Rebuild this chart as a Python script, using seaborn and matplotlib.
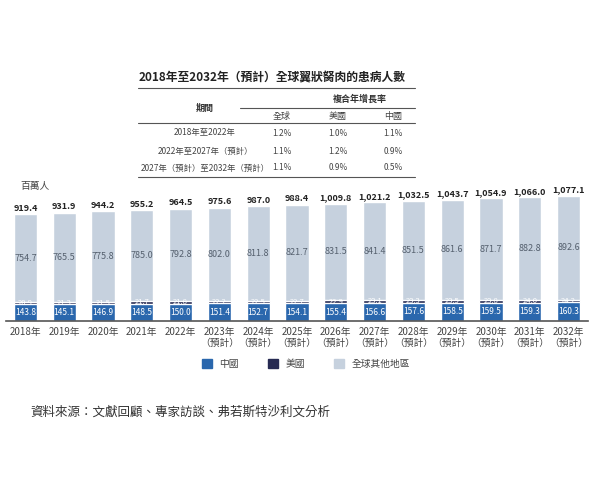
import matplotlib
matplotlib.use("Agg")
import matplotlib.pyplot as plt
import seaborn as sns
import numpy as np
from matplotlib.patches import Patch

sns.set_style("white")
plt.rcParams['font.family'] = ['Noto Sans CJK TC', 'DejaVu Sans']

# 數據（百萬人）
years = ["2018年", "2019年", "2020年", "2021年", "2022年",
         "2023年\n（預計）", "2024年\n（預計）", "2025年\n（預計）", "2026年\n（預計）",
         "2027年\n（預計）", "2028年\n（預計）", "2029年\n（預計）", "2030年\n（預計）",
         "2031年\n（預計）", "2032年\n（預計）"]
china = [143.8, 145.1, 146.9, 148.5, 150.0, 151.4, 152.7, 154.1, 155.4,
         156.6, 157.6, 158.5, 159.5, 159.3, 160.3]
usa = [20.9, 21.3, 21.5, 21.7, 21.8, 22.2, 22.5, 22.7, 22.9,
       23.1, 23.3, 23.5, 23.8, 24.0, 24.2]
rest = [754.7, 765.5, 775.8, 785.0, 792.8, 802.0, 811.8, 821.7, 831.5,
        841.4, 851.5, 861.6, 871.7, 882.8, 892.6]
total_labels = ["919.4", "931.9", "944.2", "955.2", "964.5", "975.6", "987.0", "988.4",
                "1,009.8", "1,021.2", "1,032.5", "1,043.7", "1,054.9", "1,066.0", "1,077.1"]

# 年複合增長率表
periods = ["2018年至2022年", "2022年至2027年（預計）", "2027年（預計）至2032年（預計）"]
cagr_global = ["1.2%", "1.1%", "1.1%"]
cagr_us = ["1.0%", "1.2%", "0.9%"]
cagr_cn = ["1.1%", "0.9%", "0.5%"]

c_cn = "#2a67ad"
c_us = "#262a52"
c_rest = "#c6d1de"

china = np.array(china)
usa = np.array(usa)
rest = np.array(rest)
cn_us = china + usa
totals = cn_us + rest

fig = plt.figure(figsize=(6, 4.8), dpi=100)
ax = fig.add_axes([0.01, 0.331, 0.97, 0.291])

# 堆疊柱狀圖（從上往下覆蓋）
sns.barplot(x=years, y=totals, color=c_rest, width=0.6, saturation=1, ax=ax)
sns.barplot(x=years, y=cn_us, color=c_us, width=0.6, saturation=1, ax=ax)
sns.barplot(x=years, y=china, color=c_cn, width=0.6, saturation=1, ax=ax)

for i in range(len(years)):
    ax.text(i, china[i] / 2, f"{china[i]:.1f}", ha="center", va="center",
            color="white", fontsize=6)
    ax.text(i, china[i] + usa[i] / 2 + 1, f"{usa[i]:.1f}", ha="center", va="center",
            color="white", fontsize=5.5)
    ax.text(i, cn_us[i] + rest[i] / 2, f"{rest[i]:.1f}", ha="center", va="center",
            color="#55606e", fontsize=6.5)
    ax.text(i, totals[i] + 12, total_labels[i], ha="center", va="bottom",
            color="#222222", fontsize=6.5, fontweight="bold")

ax.set_xlim(-0.5, 14.5)
ax.set_ylim(0, 1200)
ax.set_yticks([])
ax.set_ylabel("")
for s in ["top", "right", "left"]:
    ax.spines[s].set_visible(False)
ax.spines["bottom"].set_color("#555555")
ax.spines["bottom"].set_linewidth(1.2)
ax.tick_params(axis="x", length=0, labelsize=7, colors="#444444", pad=4)
for lab in ax.get_xticklabels():
    lab.set_verticalalignment("top")
    lab.set_linespacing(1.1)


def fy(py):
    return 1 - py / 480


def fx(px):
    return px / 600


fig.text(fx(20), fy(186), "百萬人", fontsize=7, color="#444444", va="center")

# 標題與表格
fig.text(fx(272), fy(78), "2018年至2032年（預計）全球翼狀胬肉的患病人數",
         ha="center", va="center", fontsize=8.5, fontweight="bold", color="#222222")
line_kw = dict(color="#555555", linewidth=0.8)
fig.add_artist(plt.Line2D([fx(138), fx(415)], [fy(88), fy(88)], **line_kw))
fig.add_artist(plt.Line2D([fx(240), fx(415)], [fy(108), fy(108)], **line_kw))
fig.add_artist(plt.Line2D([fx(138), fx(415)], [fy(123), fy(123)], **line_kw))
fig.add_artist(plt.Line2D([fx(138), fx(415)], [fy(177), fy(177)], **line_kw))
fig.text(fx(360), fy(99), "複合年增長率", ha="center", va="center", fontsize=6.5,
         fontweight="bold", color="#333333")
fig.text(fx(205), fy(108), "期間", ha="center", va="center", fontsize=6.5,
         fontweight="bold", color="#333333")
col_x = [282, 338, 393]
for x, h in zip(col_x, ["全球", "美國", "中國"]):
    fig.text(fx(x), fy(116), h, ha="center", va="center", fontsize=6.5, color="#444444")
row_y = [133, 151, 168]
for j, y in enumerate(row_y):
    fig.text(fx(205), fy(y), periods[j], ha="center", va="center", fontsize=6, color="#444444")
    for x, vals in zip(col_x, [cagr_global, cagr_us, cagr_cn]):
        fig.text(fx(x), fy(y), vals[j], ha="center", va="center", fontsize=6, color="#444444")

# 圖例
handles = [Patch(color=c_cn, label="中國"), Patch(color=c_us, label="美國"),
           Patch(color=c_rest, label="全球其他地區")]
fig.legend(handles=handles, loc="center", bbox_to_anchor=(fx(306), fy(364)), ncol=3,
           frameon=False, fontsize=7, handlelength=1.0, handleheight=1.0,
           columnspacing=3.0, handletextpad=0.8, labelcolor="#444444")

fig.text(fx(30), fy(412), "資料來源：文獻回顧、專家訪談、弗若斯特沙利文分析",
         ha="left", va="center", fontsize=9, style="italic", color="#333333")

fig.savefig("out.png", dpi=100, facecolor="white")
